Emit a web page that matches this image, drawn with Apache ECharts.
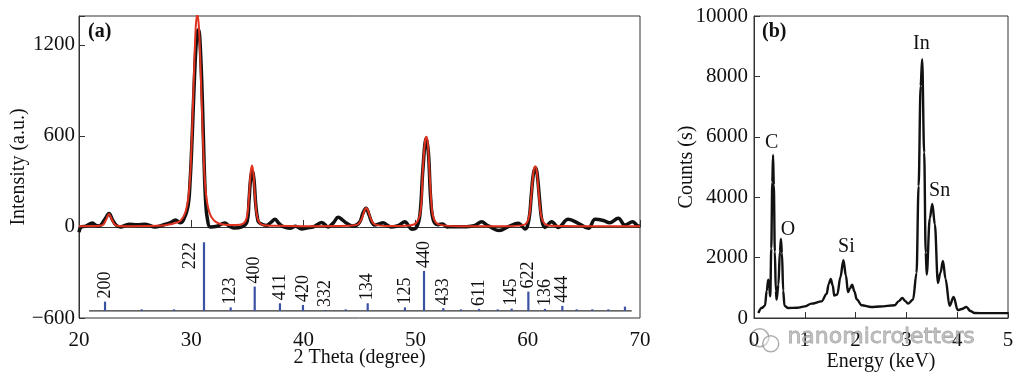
<!DOCTYPE html>
<html><head><meta charset="utf-8">
<script src="https://cdn.jsdelivr.net/npm/echarts@6/dist/echarts.min.js"></script>
<style>html,body{margin:0;padding:0;background:#fff}#c{width:1024px;height:381px}</style>
</head><body><div id="c"></div>
<script>
// ---------- Panel (a): XRD ----------
const xrdObserved = [
[20.0,-35],[20.2,0],[20.6,5],[21.2,26],[21.5,10],[21.8,7],[22.3,50],[22.67,88],[23.0,45],[23.3,13],[23.7,0],
[24.45,18],[25.2,15],[25.9,18],[26.8,0],[27.7,18],[28.2,30],[28.6,46],[29.0,28],[29.3,45],[29.7,130],[29.9,300],
[30.1,620],[30.3,1000],[30.5,1260],[30.65,1300],[30.8,1200],[31.0,820],[31.15,420],[31.3,150],[31.45,50],[31.7,0],
[32.3,5],[33.0,26],[33.4,5],[33.8,-7],[34.5,0],[35.0,40],[35.15,170],[35.3,320],[35.45,370],[35.6,310],[35.75,150],
[35.95,40],[36.13,24],[36.7,10],[37.1,30],[37.47,50],[37.8,25],[38.2,2],[38.8,-9],[39.3,5],[39.85,-13],[40.4,-5],
[40.9,1],[41.63,30],[42.2,0],[42.7,30],[43.1,64],[43.5,45],[43.86,24],[44.45,6],[45.0,30],[45.3,90],[45.58,123],
[45.85,80],[46.1,30],[46.38,12],[46.75,20],[47.1,28],[47.5,10],[47.87,0],[48.5,10],[49.05,35],[49.35,10],[49.65,-15],
[50.1,0],[50.4,90],[50.65,380],[50.95,585],[51.15,480],[51.35,180],[51.6,40],[52.0,15],[52.4,20],[52.8,0],[53.07,2],
[54.55,2],[55.3,10],[55.9,35],[56.3,15],[56.63,2],[57.46,-24],[58.26,2],[59.15,24],[59.75,-13],[60.1,50],[60.3,200],
[60.5,350],[60.7,390],[60.85,340],[61.05,180],[61.25,45],[61.53,-3],[62.13,35],[62.72,-3],[63.6,50],[64.5,24],
[65.4,-9],[66.0,50],[66.73,42],[67.3,28],[68.06,57],[68.66,12],[69.35,35],[69.85,6],[70.0,8]
];
const xrdFit = [
[20.0,5],[21.5,6],[22.1,12],[22.4,45],[22.67,85],[22.95,45],[23.3,10],[24.0,5],[26.0,6],[27.5,10],[28.3,20],[28.7,28],
[29.1,45],[29.5,100],[29.8,230],[30.0,480],[30.2,900],[30.4,1310],[30.55,1400],[30.7,1300],[30.9,900],[31.1,480],
[31.3,230],[31.6,100],[32.0,45],[32.5,22],[33.0,15],[34.0,12],[34.6,20],[34.95,60],[35.15,200],[35.3,360],[35.42,405],
[35.55,350],[35.7,190],[35.9,60],[36.3,15],[37.5,8],[40.0,5],[44.0,8],[44.8,15],[45.2,55],[45.45,110],[45.6,125],
[45.75,110],[46.0,55],[46.4,15],[47.5,6],[49.5,10],[50.1,30],[50.45,110],[50.65,380],[50.85,570],[50.97,595],[51.1,540],
[51.3,280],[51.5,90],[51.8,30],[52.3,12],[54.0,5],[58.0,5],[59.6,12],[60.05,50],[60.3,200],[60.5,360],[60.65,400],
[60.8,365],[61.0,200],[61.2,70],[61.5,20],[62.0,8],[66.0,5],[70.0,5]
];
// reference pattern sticks
const stickPos   = [22.32,25.59,28.47,31.14,33.52,35.66,37.91,39.96,41.95,43.77,45.73,49.05,50.75,52.47,54.05,55.65,57.32,58.56,60.05,61.53,63.08,64.36,65.75,67.18,68.66];
const stickTop   = [-492,-543,-543,-101,-530,-393,-503,-514,-547,-543,-503,-530,-290,-535,-543,-540,-543,-538,-426,-540,-520,-543,-543,-543,-525];
const stickLabel = ['200','','','222','123','400','411','420','332','','134','125','440','433','','611','','145','622','136','444','','','',''];
const stickBase  = -553;
const stickBaseRange = [20.9, 69.26];
const xrdXTicks = [20, 30, 40, 50, 60, 70];
const xrdYTicks = [-600, 0, 600, 1200];

// ---------- Panel (b): EDS ----------
const edsSpectrum = [
[0.085,166],[0.15,330],[0.216,410],[0.25,900],[0.28,1270],[0.30,1000],[0.32,717],[0.34,2300],[0.36,4500],[0.375,5400],
[0.39,4400],[0.41,2200],[0.43,900],[0.445,607],[0.48,1100],[0.51,2200],[0.53,2620],[0.55,2150],[0.575,900],[0.60,408],
[0.67,330],[0.85,340],[1.0,385],[1.13,475],[1.33,550],[1.43,800],[1.47,1120],[1.51,1293],[1.55,1080],[1.58,740],[1.64,780],
[1.70,1350],[1.76,1911],[1.81,1400],[1.85,860],[1.89,980],[1.93,1105],[1.98,870],[2.02,620],[2.12,420],[2.31,365],
[2.48,380],[2.77,420],[2.85,560],[2.92,663],[2.98,560],[3.03,475],[3.13,607],[3.20,1493],[3.24,4365],[3.28,7683],
[3.31,8568],[3.35,5480],[3.38,2165],[3.40,1436],[3.46,3300],[3.51,3780],[3.56,3100],[3.62,1160],[3.67,1500],[3.72,1890],
[3.77,1300],[3.85,400],[3.93,697],[4.01,260],[4.09,300],[4.18,365],[4.26,230],[4.34,166],[4.6,160],[5.0,160]
];
const edsElements = [['C',0.348,5815],['O',0.668,2929],['Si',1.82,2375],['In',3.295,9066],['Sn',3.654,4199]];
const edsXTicks = [0, 1, 2, 3, 4, 5];
const edsYTicks = [0, 2000, 4000, 6000, 8000, 10000];

const FONT = '"Liberation Serif", "Times New Roman", serif';
const axisLineStyle = {show:true, lineStyle:{color:'#333', width:1}};
const nameStyle = {fontFamily:FONT, fontSize:20, color:'#111'};

const chart = echarts.init(document.getElementById('c'), null, {renderer:'canvas'});
chart.setOption({
  animation:false,
  backgroundColor:'#fff',
  textStyle:{fontFamily:FONT},
  grid:[
    {left:79, top:16, width:561, height:302, show:true, borderColor:'#333', borderWidth:1, backgroundColor:'transparent',
     containLabel:false, outerBoundsMode:'none'},
    {left:754, top:16, width:254, height:302, show:true, borderColor:'#333', borderWidth:1, backgroundColor:'transparent',
     containLabel:false, outerBoundsMode:'none'}
  ],
  xAxis:[
    {type:'value', gridIndex:0, min:xrdXTicks[0], max:xrdXTicks[xrdXTicks.length-1], interval:10,
     axisLine:axisLineStyle, axisTick:{show:true, inside:true, length:7, lineStyle:{color:'#333'}},
     splitLine:{show:false}, axisLabel:{fontFamily:FONT, fontSize:21, color:'#111', margin:12},
     name:'2 Theta (degree)', nameLocation:'middle', nameGap:30, nameMoveOverlap:false, nameTextStyle:nameStyle},
    {type:'value', gridIndex:1, min:edsXTicks[0], max:edsXTicks[edsXTicks.length-1], interval:1,
     axisLine:axisLineStyle, axisTick:{show:true, inside:true, length:6, lineStyle:{color:'#333'}},
     splitLine:{show:false}, axisLabel:{fontFamily:FONT, fontSize:21, color:'#111', margin:12},
     name:'Energy (keV)', nameLocation:'middle', nameGap:34, nameMoveOverlap:false, nameTextStyle:nameStyle}
  ],
  yAxis:[
    {type:'value', gridIndex:0, min:-600, max:1390, interval:600,
     axisLine:axisLineStyle, axisTick:{show:true, inside:true, length:6, lineStyle:{color:'#333'}},
     splitLine:{show:false},
     axisLabel:{fontFamily:FONT, fontSize:21, color:'#111', margin:4,
       formatter:v => xrdYTicks.indexOf(v) >= 0 ? String(v).replace('-', '\u2212') : ''},
     name:'Intensity (a.u.)', nameLocation:'middle', nameGap:50, nameMoveOverlap:false, nameTextStyle:nameStyle},
    {type:'value', gridIndex:1, min:0, max:10000, interval:2000,
     axisLine:axisLineStyle, axisTick:{show:true, inside:true, length:6, lineStyle:{color:'#333'}},
     splitLine:{show:false},
     axisLabel:{fontFamily:FONT, fontSize:21, color:'#111', margin:6, formatter:v => String(v)},
     name:'Counts (s)', nameLocation:'middle', nameGap:57, nameMoveOverlap:false, nameTextStyle:nameStyle}
  ],
  series:[
    {type:'line', xAxisIndex:0, yAxisIndex:0, data:xrdObserved, showSymbol:false, smooth:0.4, clip:true,
     lineStyle:{color:'#111', width:3.5}, z:2},
    {type:'line', xAxisIndex:0, yAxisIndex:0, data:xrdFit, showSymbol:false, smooth:0.4, clip:true,
     lineStyle:{color:'#e0321f', width:2}, z:3},
    {type:'line', xAxisIndex:0, yAxisIndex:0, data:stickBaseRange.map(x => [x, stickBase]), showSymbol:false,
     lineStyle:{color:'#333', width:1.2}, z:3},
    {type:'custom', xAxisIndex:0, yAxisIndex:0, z:4, clip:false,
     data: stickPos.map((p,i) => [p, stickTop[i]]),
     renderItem:(params, api) => {
       const x = api.value(0), top = api.value(1);
       const p0 = api.coord([x, stickBase]);
       const p1 = api.coord([x, top]);
       const children = [{type:'line', shape:{x1:p0[0], y1:p0[1], x2:p1[0], y2:p1[1]},
         style:{stroke:'#3b52a3', lineWidth:2.2}}];
       const lab = stickLabel[params.dataIndex];
       if (lab) {
         const beside = top > -200;
         children.push({type:'text', x: beside ? p1[0]-14 : p1[0], y: beside ? p1[1] : p1[1]-3,
           rotation: Math.PI/2,
           style:{text:lab, font:'18px ' + FONT, fill:'#111', align: beside ? 'right' : 'left', verticalAlign:'middle'}});
       }
       return {type:'group', children};
     }},
    {type:'line', xAxisIndex:1, yAxisIndex:1, data:edsSpectrum, showSymbol:false, smooth:0.35, smoothMonotone:'x',
     lineStyle:{color:'#111', width:2.4}, z:2},
    {type:'scatter', xAxisIndex:1, yAxisIndex:1, symbolSize:0, z:4, itemStyle:{color:'#111', opacity:1},
     data: edsElements.map(e => ({name:e[0], value:[e[1], e[2]]})),
     label:{show:true, position:'inside', formatter:'{b}', fontFamily:FONT, fontSize:20, color:'#111',
       textBorderWidth:0, textBorderColor:'transparent'}}
  ],
  graphic:[
    {type:'text', left:88, top:22, style:{text:'(a)', font:'bold 20px ' + FONT, fill:'#111'}},
    {type:'text', left:762, top:22, style:{text:'(b)', font:'bold 20px ' + FONT, fill:'#111'}},
    {type:'group', left:750, top:328, z:100, children:[
      {type:'circle', shape:{cx:11, cy:9, r:9}, style:{fill:'rgba(255,255,255,0.4)', stroke:'rgba(140,140,140,0.7)', lineWidth:1.5}},
      {type:'circle', shape:{cx:22, cy:15, r:8}, style:{fill:'rgba(255,255,255,0.4)', stroke:'rgba(140,140,140,0.7)', lineWidth:1.5}}
    ]},
    {type:'text', left:787, top:326, z:100, style:{text:'nanomicroletters', font:'22px "DejaVu Sans", sans-serif',
      fill:'rgba(175,175,175,0.75)', stroke:'rgba(110,110,110,0.6)', lineWidth:0.8}}
  ]
});
</script>
</body></html>
